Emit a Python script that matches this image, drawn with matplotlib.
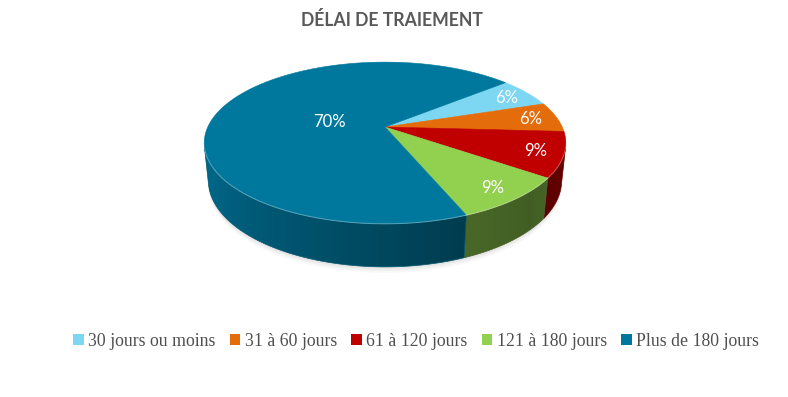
import numpy as np
import matplotlib.pyplot as plt
from matplotlib.patches import Polygon, Patch
from matplotlib.colors import to_rgb

# Data
categories = ['30 jours ou moins', '31 à 60 jours', '61 à 120 jours',
              '121 à 180 jours', 'Plus de 180 jours']
values = [6, 6, 9, 9, 70]
colors = ['#7DD6F2', '#E46C0A', '#C00000', '#92D050', '#00789E']
title = 'DÉLAI DE TRAIEMENT'

# 3D pie projection settings (pixel space)
CX, CY = 385, 127
ELEV = np.radians(26)
DIST = 4.553
FOC = 807
THICK = 0.237
START = 40  # angle of first slice (deg, counter-clockwise from 3 o'clock)
VIS_LO, VIS_HI = 194.1, 345.9  # visible part of the outer wall


def project(r, theta, z=0.0):
    th = np.radians(theta)
    x = r * np.cos(th)
    y = r * np.sin(th)
    depth = DIST + y * np.cos(ELEV) - z * np.sin(ELEV)
    up = y * np.sin(ELEV) + z * np.cos(ELEV)
    return CX + FOC * x / depth, CY - FOC * up / depth, depth


def shade(theta):
    a = np.mod(theta, 360)
    return np.interp(a, [0, 40, 90, 160, 194, 240, 292, 315, 346, 360],
                     [0.58, 0.7, 0.8, 0.95, 0.9, 0.72, 0.5, 0.45, 0.56, 0.58])


fig = plt.figure(figsize=(7.88, 3.97), dpi=100)
ax = fig.add_axes([0, 0, 1, 1])

total = sum(values)
bounds = START - 360 * np.concatenate([[0], np.cumsum(values)]) / total

# soft shadow under the pie
t_all = np.linspace(0, 360, 240)
for k, a in zip([6, 4, 2], [0.05, 0.07, 0.09]):
    sx, sy, _ = project(1.0, t_all, -THICK)
    ax.add_patch(Polygon(np.column_stack([sx, sy + k]), closed=True,
                         facecolor='#808080', edgecolor='none', alpha=a, zorder=1))

# mapping screen x -> wall angle on the visible front
arc_t = np.linspace(VIS_LO, VIS_HI, 400)
arc_x, _, _ = project(1.0, arc_t, 0)
gx = np.arange(150, 640)
gshade = shade(np.interp(gx, arc_x, arc_t))

# outer walls: gradient images clipped to each slice's visible wall
for i, v in enumerate(values):
    hi, lo = bounds[i], bounds[i + 1]
    for off in (-360, 0, 360):
        a = max(lo + off, VIS_LO)
        b = min(hi + off, VIS_HI)
        if b - a <= 0:
            continue
        ths = np.linspace(a, b, 80)
        tx, ty, _ = project(1.0, ths, 0)
        bx, by, _ = project(1.0, ths[::-1], -THICK)
        poly = Polygon(np.column_stack([np.r_[tx, bx], np.r_[ty, by]]), closed=True,
                       facecolor='none', edgecolor='none')
        ax.add_patch(poly)
        base = np.array(to_rgb(colors[i]))
        img = np.clip(gshade[None, :, None] * base[None, None, :], 0, 1)
        img = np.repeat(img, 2, axis=0)
        im = ax.imshow(img, extent=(gx[0] - 0.5, gx[-1] + 0.5, 290, 100),
                       interpolation='bilinear', aspect='auto', zorder=2)
        im.set_clip_path(poly)
        ax.add_patch(Polygon(poly.get_xy(), closed=True, facecolor='none',
                             edgecolor=np.clip(base * shade((a + b) / 2), 0, 1),
                             linewidth=0.5, zorder=2))

# top faces
for i, v in enumerate(values):
    ths = np.linspace(bounds[i], bounds[i + 1], 120)
    px, py, _ = project(1.0, ths, 0)
    pts = np.vstack([[CX, CY], np.column_stack([px, py])])
    ax.add_patch(Polygon(pts, closed=True, facecolor=colors[i], edgecolor=colors[i],
                         linewidth=0.4, zorder=3))
    # light rim along the visible front edge
    m = np.mod(ths, 360)
    front = ths[(m > VIS_LO) & (m < VIS_HI)]
    if len(front) > 1:
        fx, fy, _ = project(1.0, front, 0)
        ax.plot(fx, fy, color='white', alpha=0.3, linewidth=0.8, zorder=4)

# data labels
for i, v in enumerate(values):
    mid = (bounds[i] + bounds[i + 1]) / 2
    r = 0.33 if v > 50 else 0.85
    lx, ly, _ = project(r, mid, 0)
    ax.text(lx, ly + 1, f'{v}%', color='white', fontsize=12, family='Lato',
            ha='center', va='center', zorder=5)

ax.set_xlim(0, 788)
ax.set_ylim(397, 0)
ax.axis('off')

ax.text(392, 20, title, fontsize=12.7, fontweight='bold', family='Lato',
        color='#595959', ha='center', va='center')

handles = [Patch(facecolor=c, edgecolor='none') for c in colors]
fig.legend(handles, categories, loc='center', bbox_to_anchor=(416 / 788, 1 - 341 / 397),
           ncol=5, frameon=False, handlelength=0.6, handleheight=0.6,
           handletextpad=0.25, columnspacing=0.8,
           prop={'family': 'Liberation Serif', 'size': 12.8}, labelcolor='#505050')

fig.savefig('out.png', dpi=100)
